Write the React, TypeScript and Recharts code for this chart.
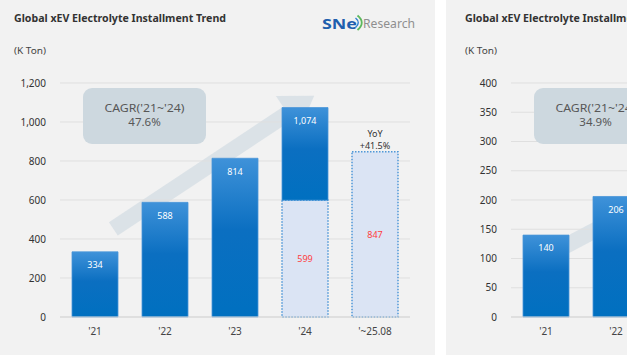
import React from 'react';
import { BarChart, Bar, XAxis, YAxis, CartesianGrid, LabelList, ReferenceLine } from 'recharts';

// ---------- data ----------
const categories = ["'21", "'22", "'23", "'24", "'~25.08"];

// Left panel: Global xEV Electrolyte Installment (K Ton)
const leftAnnual = [334, 588, 814, 1074, null];
const leftJanAug = [null, null, null, 599, 847];
const leftTicks = [0, 200, 400, 600, 800, 1000, 1200];
const leftCagr = '47.6%';
const leftYoy = '+41.5%';
const leftArrow = [390, 1103]; // trend-arrow levels at '21 and '24

// Right panel: only '21 and '22 are visible in the picture (the rest is cut off)
const rightCategories = ["'21", "'22"];
const rightAnnual = [140, 206];
const rightJanAug = [null, null];
const rightTicks = [0, 50, 100, 150, 200, 250, 300, 350, 400];
const rightCagr = '34.9%';
const rightArrow = [104, 167]; // trend-arrow levels at '21 and '22

const TITLE = 'Global xEV Electrolyte Installment Trend';
const UNIT = '(K Ton)';
const CAGR_LABEL = "CAGR('21~'24)";

const FONT = "'Noto Sans', sans-serif";

type Row = {
  cat: string;
  light: number | null;
  solid: number | null;
  total: number | null;
  janAug: number | null;
  yoyTitle?: string;
  yoyPct?: string;
};

function buildRows(cats: string[], annual: (number | null)[], janAug: (number | null)[], yoy?: string): Row[] {
  return cats.map((cat, i) => {
    const a = annual[i];
    const j = janAug[i];
    const isYoy = !!yoy && a == null && j != null;
    return {
      cat,
      light: j,
      solid: a == null ? null : a - (j ?? 0),
      total: a,
      janAug: j,
      yoyTitle: isYoy ? 'YoY' : undefined,
      yoyPct: isYoy ? yoy : undefined,
    };
  });
}

const fmt = (v: any) => (v == null || v === '' ? '' : typeof v === 'number' ? v.toLocaleString('en-US') : String(v));

const makeArrowShape = (withHead: boolean) => (props: any) => {
  const { x1, y1, x2, y2 } = props;
  if ([x1, y1, x2, y2].some((v) => typeof v !== 'number' || isNaN(v))) return null;
  const dx = x2 - x1;
  const dy = y2 - y1;
  const len = Math.sqrt(dx * dx + dy * dy);
  const ux = dx / len;
  const uy = dy / len;
  const nx = -uy;
  const ny = ux;
  const sx = x1 + ux * 22;
  const sy = y1 + uy * 22;
  const hw = 8;
  let pts: number[][];
  if (withHead) {
    const ax = x2 + ux * 11;
    const ay = y2 + uy * 11;
    const bx = ax - ux * 32;
    const by = ay - uy * 32;
    const hh = 21;
    pts = [
      [sx + nx * hw, sy + ny * hw],
      [bx + nx * hw, by + ny * hw],
      [bx + nx * hh, by + ny * hh],
      [ax, ay],
      [bx - nx * hh, by - ny * hh],
      [bx - nx * hw, by - ny * hw],
      [sx - nx * hw, sy - ny * hw],
    ];
  } else {
    const ex = x2 + ux * 120;
    const ey = y2 + uy * 120;
    pts = [
      [sx + nx * hw, sy + ny * hw],
      [ex + nx * hw, ey + ny * hw],
      [ex - nx * hw, ey - ny * hw],
      [sx - nx * hw, sy - ny * hw],
    ];
  }
  return <polygon points={pts.map((p) => p.join(',')).join(' ')} fill="#c9d5de" fillOpacity={0.55} />;
};

type PanelProps = {
  id: string;
  left: number;
  cats: string[];
  annual: (number | null)[];
  janAug: (number | null)[];
  ticks: number[];
  cagr: string;
  yoy?: string;
  arrow: number[];
  arrowTo: string;
  arrowHead: boolean;
  logo?: boolean;
};

const CHART_H = 355;
const Y_W = 60;
const BAND = 70;
const RIGHT_M = 25;
const MARGIN = { top: 83, right: RIGHT_M, bottom: 8, left: 0 };

const Panel = ({ id, left, cats, annual, janAug, ticks, cagr, yoy, arrow, arrowTo, arrowHead, logo }: PanelProps) => {
  const rows = buildRows(cats, annual, janAug, yoy);
  const max = ticks[ticks.length - 1];
  const width = Y_W + BAND * cats.length + RIGHT_M;
  const xAxisProps = {
    dataKey: 'cat',
    interval: 0 as const,
    height: 30,
    tickSize: 6,
    tickMargin: 5,
  };
  const yAxisProps = {
    domain: [0, max] as [number, number],
    ticks,
    interval: 0 as const,
    width: Y_W,
    tickSize: 6,
    tickMargin: 8,
  };
  return (
    <div style={{ position: 'absolute', left, top: 0, width, height: CHART_H }}>
      {/* background layer: the trend arrow, drawn behind the bars */}
      <div style={{ position: 'absolute', left: 0, top: 0, zIndex: 0 }}>
        <BarChart width={width} height={CHART_H} data={rows} margin={MARGIN}>
          <XAxis {...xAxisProps} axisLine={false} tickLine={false} tick={false} />
          <YAxis {...yAxisProps} axisLine={false} tickLine={false} tick={false} />
          <Bar dataKey="total" fill="none" barSize={46} isAnimationActive={false} />
          <ReferenceLine
            segment={[
              { x: cats[0], y: arrow[0] },
              { x: arrowTo, y: arrow[1] },
            ]}
            ifOverflow="visible"
            shape={makeArrowShape(arrowHead)}
          />
        </BarChart>
      </div>
      <div style={{ position: 'absolute', left: 0, top: 0, zIndex: 1 }}>
        <BarChart width={width} height={CHART_H} data={rows} margin={MARGIN} style={{ fontFamily: FONT }}>
          <defs>
            <linearGradient id={`grad-${id}`} x1="0" y1="0" x2="0" y2="1">
              <stop offset="0%" stopColor="#3f92d9" />
              <stop offset="45%" stopColor="#0b6fc1" />
              <stop offset="100%" stopColor="#0070c0" />
            </linearGradient>
          </defs>
          <CartesianGrid vertical={false} stroke="#dfdfdf" />
          <XAxis
            {...xAxisProps}
            axisLine={{ stroke: '#d6d6d6' }}
            tickLine={false}
            tick={{ fontSize: 10, fill: '#444', fontFamily: FONT }}
          />
          <YAxis
            {...yAxisProps}
            axisLine={false}
            tickLine={false}
            tickFormatter={(v: number) => v.toLocaleString('en-US')}
            tick={{ fontSize: 10, fill: '#333', fontFamily: FONT }}
          />
          <Bar
            dataKey="light"
            stackId="s"
            barSize={46}
            fill="#dbe4f4"
            stroke="#4f97d8"
            strokeWidth={1.5}
            strokeDasharray="1.5 1.5"
            isAnimationActive={false}
          >
            <LabelList dataKey="janAug" position="center" formatter={fmt} fill="#ff3d3d" fontSize={9} fontFamily={FONT} />
            <LabelList dataKey="yoyPct" position="top" offset={3} formatter={fmt} fill="#333" fontSize={9} fontFamily={FONT} />
            <LabelList dataKey="yoyTitle" position="top" offset={15} formatter={fmt} fill="#333" fontSize={9} fontFamily={FONT} />
          </Bar>
          <Bar
            dataKey="solid"
            stackId="s"
            barSize={46}
            fill={`url(#grad-${id})`}
            stroke="#4a95d8"
            strokeWidth={0.8}
            isAnimationActive={false}
          >
            <LabelList dataKey="total" position="insideTop" offset={10} formatter={fmt} fill="#ffffff" fontSize={9} fontFamily={FONT} />
          </Bar>
        </BarChart>
      </div>
      <svg
        width={435}
        height={CHART_H}
        style={{ position: 'absolute', left: 0, top: 0, zIndex: 2, pointerEvents: 'none', fontFamily: FONT }}
      >
        <text x={14} y={22} fontSize={11} fontWeight={700} fill="#333" textLength={212} lengthAdjust="spacingAndGlyphs">
          {TITLE}
        </text>
        <text x={14} y={54} fontSize={8.5} fill="#444" textLength={32} lengthAdjust="spacingAndGlyphs">
          {UNIT}
        </text>
        <rect x={83} y={88} width={123} height={56} rx={9} fill="#cdd8df" />
        <text x={144.5} y={112} fontSize={11.5} fill="#575757" textAnchor="middle" textLength={80} lengthAdjust="spacingAndGlyphs">
          {CAGR_LABEL}
        </text>
        <text x={144.5} y={126} fontSize={11.5} fill="#575757" textAnchor="middle">
          {cagr}
        </text>
        {logo && (
          <g>
            <text x={322} y={29} fontSize={15} fontWeight={700} fill="#1f5fae" textLength={35} lengthAdjust="spacingAndGlyphs">
              SNe
            </text>
            <path d="M357.5,15.5 Q366,22.5 357.5,30" fill="none" stroke="#5cb85c" strokeWidth={1.8} />
            <path d="M355.5,18 Q361,22.5 355.5,27.5" fill="none" stroke="#2d7fd0" strokeWidth={1.4} />
            <text x={363} y={28} fontSize={12.5} fill="#8f8f8f" textLength={52} lengthAdjust="spacingAndGlyphs">
              Research
            </text>
          </g>
        )}
      </svg>
    </div>
  );
};

export default function App() {
  return (
    <div
      style={{
        position: 'absolute',
        left: 0,
        top: 0,
        width: 627,
        height: 355,
        overflow: 'hidden',
        background: '#ffffff',
        fontFamily: FONT,
      }}
    >
      <div style={{ position: 'absolute', left: 0, top: 0, width: 435, height: 355, background: '#f2f2f2' }} />
      <div style={{ position: 'absolute', left: 446, top: 0, width: 181, height: 355, background: '#f2f2f2' }} />
      <Panel
        id="left"
        left={0}
        cats={categories}
        annual={leftAnnual}
        janAug={leftJanAug}
        ticks={leftTicks}
        cagr={leftCagr}
        yoy={leftYoy}
        arrow={leftArrow}
        arrowTo={categories[3]}
        arrowHead
        logo
      />
      <Panel
        id="right"
        left={451}
        cats={rightCategories}
        annual={rightAnnual}
        janAug={rightJanAug}
        ticks={rightTicks}
        cagr={rightCagr}
        arrow={rightArrow}
        arrowTo={rightCategories[1]}
        arrowHead={false}
      />
    </div>
  );
}
